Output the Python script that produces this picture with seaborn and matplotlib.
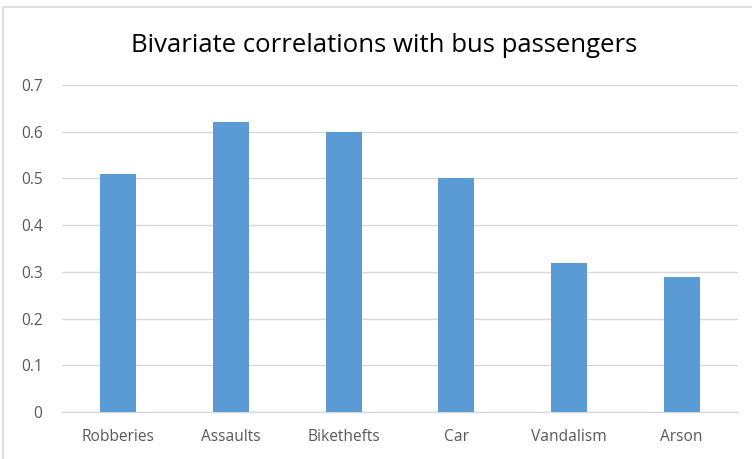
import matplotlib
matplotlib.use("Agg")
import matplotlib.pyplot as plt
import seaborn as sns
import pandas as pd
from matplotlib.patches import Rectangle

categories = ["Robberies", "Assaults", "Bikethefts", "Car", "Vandalism", "Arson"]
values = [0.51, 0.62, 0.60, 0.50, 0.32, 0.29]
yticks = [0, 0.1, 0.2, 0.3, 0.4, 0.5, 0.6, 0.7]
ytick_labels = ["0", "0.1", "0.2", "0.3", "0.4", "0.5", "0.6", "0.7"]
title = "Bivariate correlations with bus passengers"

sns.set_theme(style="white")
plt.rcParams["font.family"] = ["Open Sans", "DejaVu Sans"]

df = pd.DataFrame({"category": categories, "value": values})

fig = plt.figure(figsize=(7.52, 4.59), dpi=100)
ax = fig.add_axes([62/752, 1-412/459, (738-62)/752, (412-85)/459])
sns.barplot(data=df, x="category", y="value", color="#5B9BD5", saturation=1,
            width=0.32, ax=ax, zorder=3, linewidth=0)
ax.set_ylim(0, 0.7)
ax.set_xlim(-0.5, len(categories)-0.5)
ax.set_yticks(yticks)
ax.set_yticklabels(ytick_labels)
ax.grid(axis="y", color="#D9D9D9", linewidth=1, zorder=0)
ax.set_axisbelow(True)
for s in ["top", "right", "left"]:
    ax.spines[s].set_visible(False)
ax.spines["bottom"].set_color("#D9D9D9")
ax.spines["bottom"].set_linewidth(1)
ax.set_xlabel("")
ax.set_ylabel("")
ax.tick_params(axis="both", length=0, labelsize=11.2, colors="#595959")
ax.tick_params(axis="y", pad=14)
ax.tick_params(axis="x", pad=12)

fig.text(384/752, 1-45/459, title, ha="center", va="center", fontsize=18.5, color="#000000")

fig.patches.append(Rectangle((3/752, -0.05), 1.2, 1-7/459+0.05, transform=fig.transFigure,
                             fill=False, edgecolor="#D9D9D9", linewidth=1.2))

fig.savefig("out.png", dpi=100)
